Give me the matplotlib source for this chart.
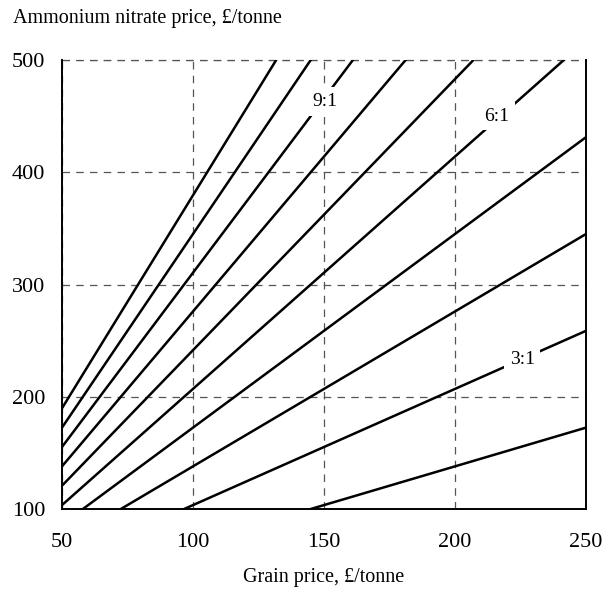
import matplotlib
matplotlib.use("Agg")
import matplotlib.pyplot as plt

# Price ratio lines (N price : grain price), AN price at grain 50 and 250 £/t
ratio_labels = ["2:1", "3:1", "4:1", "5:1", "6:1", "7:1", "8:1", "9:1", "10:1", "11:1"]
an_at_grain_50 = [34.5, 51.75, 69.0, 86.25, 103.5, 120.75, 138.0, 155.25, 172.5, 189.75]
an_at_grain_250 = [172.5, 258.75, 345.0, 431.25, 517.5, 603.75, 690.0, 776.25, 862.5, 948.75]
grain_ends = [50, 250]

# Where the ratio labels sit on their lines
label_text = ["9:1", "6:1", "3:1"]
label_x = [150.4, 216.0, 225.6]
label_y = [463, 450, 233]

x_ticks = [50, 100, 150, 200, 250]
y_ticks = [100, 200, 300, 400, 500]

plt.rcParams["font.family"] = ["Liberation Serif", "DejaVu Serif"]

fig = plt.figure(figsize=(6.03, 5.89), dpi=100)
ax = fig.add_axes([0.1028, 0.1358, 0.869, 0.7623])

for lo, hi in zip(an_at_grain_50, an_at_grain_250):
    ax.plot(grain_ends, [lo, hi], color="black", lw=1.8, zorder=3)

for t, x, y in zip(label_text, label_x, label_y):
    ax.text(x, y, t, fontsize=14, ha="center", va="center", zorder=4,
            bbox=dict(facecolor="white", edgecolor="none", pad=4))

ax.set_xlim(50, 250)
ax.set_ylim(100, 500)
ax.set_xticks(x_ticks)
ax.set_yticks(y_ticks)
ax.tick_params(length=0, labelsize=16)
ax.tick_params(axis="x", pad=17.5)
ax.tick_params(axis="y", pad=12)

ax.grid(True, color="#555555", linestyle=(0, (6, 5)), lw=0.9, zorder=1)
ax.spines["top"].set_visible(False)
for s in ["left", "right", "bottom"]:
    ax.spines[s].set_linewidth(1.4)
# Top edge drawn dashed like the grid
ax.axhline(500, color="#555555", linestyle=(0, (6, 5)), lw=0.9, zorder=1, clip_on=False)

fig.text(13 / 603, 1 - 18 / 589, "Ammonium nitrate price, £/tonne", fontsize=14.5,
         ha="left", va="center")
ax.set_xlabel("Grain price, £/tonne", fontsize=14.5, labelpad=11)

fig.savefig("out.png", dpi=100)
